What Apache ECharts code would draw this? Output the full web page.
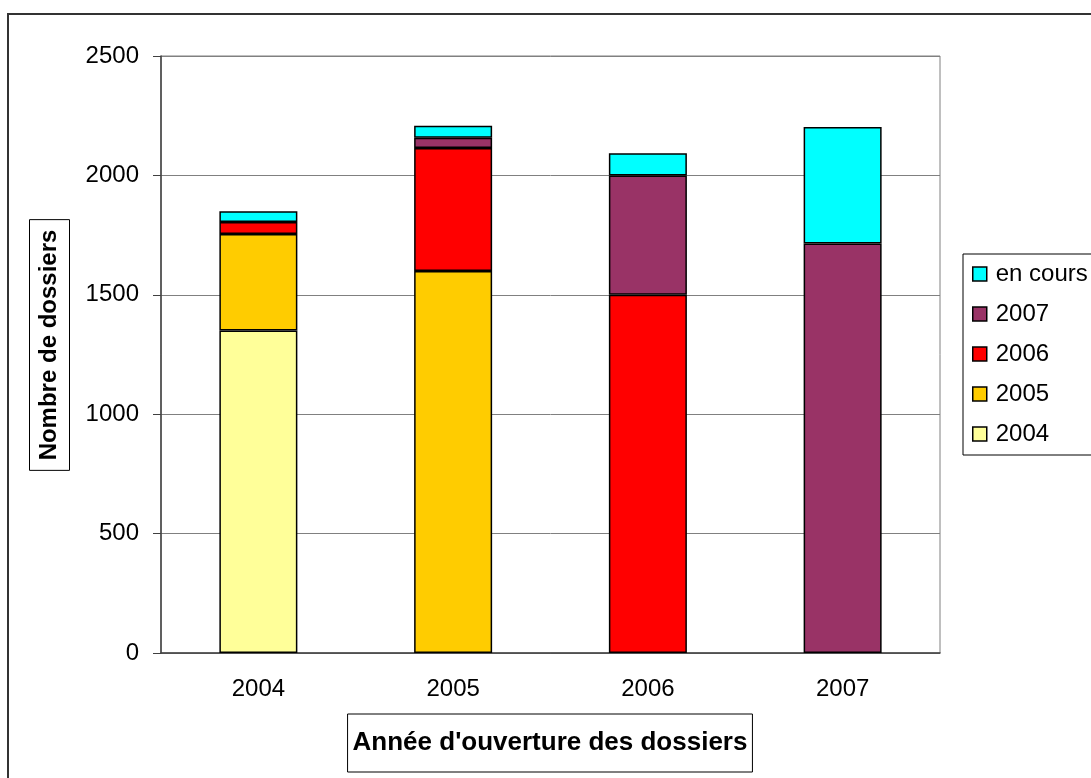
<!DOCTYPE html>
<html>
<head>
<meta charset="utf-8">
<script src="https://cdn.jsdelivr.net/npm/echarts@6/dist/echarts.min.js"></script>
<style>
  html, body { margin: 0; padding: 0; background: #fff; }
  #main { width: 1091px; height: 778px; }
</style>
</head>
<body>
<div id="main"></div>
<script>
var myChart = echarts.init(document.getElementById('main'));

// years the files were opened (x axis)
var years = ['2004', '2005', '2006', '2007'];

// stacked parts, bottom to top
var s2004 = [1350, null, null, null];
var s2005 = [405, 1600, null, null];
var s2006 = [50, 515, 1500, null];
var s2007 = [null, 43, 500, 1715];
var enCours = [45, 50, 93, 488];

var legendOrder = ['en cours', '2007', '2006', '2005', '2004'];

var font = 'Liberation Sans, Arial, sans-serif';

function part(name, values, color) {
  return {
    name: name,
    type: 'bar',
    stack: 'total',
    barWidth: 78,
    data: values,
    itemStyle: { color: color, borderColor: '#000', borderWidth: 1.5 }
  };
}

var option = {
  animation: false,
  textStyle: { fontFamily: font },
  grid: {
    left: 161, top: 56, right: 151, bottom: 125,
    show: true, borderColor: '#808080', borderWidth: 1
  },
  legend: {
    data: legendOrder,
    orient: 'vertical',
    left: 963, top: 254,
    padding: [7, 40, 8, 9],
    icon: 'rect',
    itemWidth: 14, itemHeight: 14,
    itemGap: 14,
    itemStyle: { borderColor: '#000', borderWidth: 1.5 },
    borderColor: '#000', borderWidth: 1,
    textStyle: { fontSize: 24, color: '#000', lineHeight: 26, padding: [0, 0, 0, 4] }
  },
  xAxis: {
    type: 'category',
    data: years,
    axisLine: { lineStyle: { color: '#404040', width: 1.5 } },
    axisTick: { length: 8, lineStyle: { color: '#404040' } },
    axisLabel: { fontSize: 24, color: '#000', margin: 24 },
    splitLine: { show: false }
  },
  yAxis: {
    type: 'value',
    min: 0, max: 2500, interval: 500,
    axisLine: { show: true, lineStyle: { color: '#404040', width: 1.5 } },
    axisTick: { show: true, length: 8, lineStyle: { color: '#404040' } },
    axisLabel: {
      fontSize: 24, color: '#000', margin: 22,
      formatter: function (v) { return String(v); }
    },
    splitLine: { lineStyle: { color: '#808080', width: 1 } }
  },
  graphic: [
    {
      type: 'rect', silent: true,
      shape: { x: 8, y: 14, width: 1200, height: 900 },
      style: { fill: 'none', stroke: '#333', lineWidth: 2 }
    },
    {
      type: 'text', x: 550, y: 743,
      style: {
        text: "Année d'ouverture des dossiers",
        font: 'bold 26px ' + font, fill: '#000',
        align: 'center', verticalAlign: 'middle',
        padding: [16, 5], borderColor: '#000', borderWidth: 1
      }
    },
    {
      type: 'text', x: 49.5, y: 345, rotation: Math.PI / 2,
      style: {
        text: 'Nombre de dossiers',
        font: 'bold 24px ' + font, fill: '#000',
        align: 'center', verticalAlign: 'middle',
        padding: [8, 10], borderColor: '#000', borderWidth: 1
      }
    }
  ],
  series: [
    part('2004', s2004, '#FFFF99'),
    part('2005', s2005, '#FFCC00'),
    part('2006', s2006, '#FF0000'),
    part('2007', s2007, '#993366'),
    part('en cours', enCours, '#00FFFF')
  ]
};
myChart.setOption(option);
</script>
</body>
</html>
